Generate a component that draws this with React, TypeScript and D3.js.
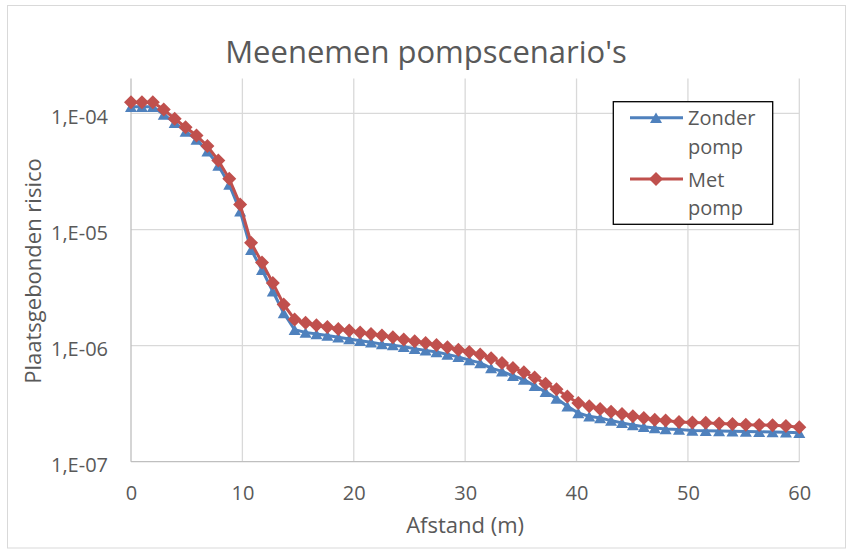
import React, { useEffect, useRef } from "react";
import * as d3 from "d3";

// Afstand (m) van elk rekenpunt
const afstand = [
  0, 0.98, 1.96, 2.94, 3.92, 4.9, 5.88, 6.86, 7.84, 8.82,
  9.8, 10.78, 11.76, 12.73, 13.71, 14.69, 15.67, 16.65, 17.63, 18.61,
  19.59, 20.57, 21.55, 22.53, 23.51, 24.49, 25.47, 26.45, 27.43, 28.41,
  29.39, 30.37, 31.35, 32.33, 33.31, 34.29, 35.27, 36.24, 37.22, 38.2,
  39.18, 40.16, 41.14, 42.12, 43.1, 44.08, 45.06, 46.04, 47.02, 48,
  49.2, 50.4, 51.6, 52.8, 54, 55.2, 56.4, 57.6, 58.8, 60,
];

// Plaatsgebonden risico zonder pomp
const zonderPomp = [
  1.14e-4, 1.14e-4, 1.14e-4, 9.8e-5, 8.3e-5, 7.0e-5, 5.97e-5, 4.73e-5, 3.56e-5, 2.44e-5,
  1.44e-5, 6.7e-6, 4.5e-6, 2.94e-6, 1.91e-6, 1.37e-6, 1.3e-6, 1.26e-6, 1.22e-6, 1.18e-6,
  1.14e-6, 1.1e-6, 1.07e-6, 1.03e-6, 1.01e-6, 9.8e-7, 9.4e-7, 9.1e-7, 8.8e-7, 8.4e-7,
  8.0e-7, 7.5e-7, 7.1e-7, 6.4e-7, 6.0e-7, 5.5e-7, 5.1e-7, 4.5e-7, 4.0e-7, 3.5e-7,
  3.0e-7, 2.63e-7, 2.46e-7, 2.38e-7, 2.26e-7, 2.16e-7, 2.07e-7, 2.0e-7, 1.95e-7, 1.91e-7,
  1.89e-7, 1.86e-7, 1.85e-7, 1.84e-7, 1.83e-7, 1.82e-7, 1.81e-7, 1.8e-7, 1.79e-7, 1.78e-7,
];

// Plaatsgebonden risico met pomp
const metPomp = [
  1.25e-4, 1.25e-4, 1.25e-4, 1.08e-4, 9.0e-5, 7.6e-5, 6.46e-5, 5.23e-5, 3.93e-5, 2.74e-5,
  1.64e-5, 7.7e-6, 5.2e-6, 3.47e-6, 2.26e-6, 1.68e-6, 1.57e-6, 1.5e-6, 1.45e-6, 1.39e-6,
  1.35e-6, 1.3e-6, 1.26e-6, 1.22e-6, 1.18e-6, 1.13e-6, 1.09e-6, 1.055e-6, 1.01e-6, 9.7e-7,
  9.2e-7, 8.8e-7, 8.4e-7, 7.8e-7, 7.1e-7, 6.4e-7, 5.9e-7, 5.3e-7, 4.7e-7, 4.2e-7,
  3.65e-7, 3.2e-7, 3.0e-7, 2.85e-7, 2.7e-7, 2.58e-7, 2.46e-7, 2.38e-7, 2.3e-7, 2.26e-7,
  2.2e-7, 2.18e-7, 2.16e-7, 2.13e-7, 2.11e-7, 2.08e-7, 2.07e-7, 2.06e-7, 2.03e-7, 1.98e-7,
];

const xTicks = [0, 10, 20, 30, 40, 50, 60];
const yTicks = [1e-4, 1e-5, 1e-6, 1e-7];
const yTickLabels = ["1,E-04", "1,E-05", "1,E-06", "1,E-07"];
const legendLines = [["Zonder", "pomp"], ["Met", "pomp"]];

const font = "'Open Sans', sans-serif";
const textColor = "#595959";
const blue = "#4F81BD";
const red = "#C0504D";

const triangle = "M0,-5.25L6,5.25L-6,5.25Z";
const diamond = "M0,-7L7,0L0,7L-7,0Z";

export default function App() {
  const ref = useRef<SVGSVGElement>(null);

  useEffect(() => {
    const svg = d3.select(ref.current);
    svg.selectAll("*").remove();

    //Plot area
    const left = 131, right = 799.3, top = 78.5, bottom = 461.7;

    //Scales
    const x = d3.scaleLinear().domain([0, 60]).range([left, right]);
    const y = d3.scaleLog().domain([1e-7, 2e-4]).range([bottom, top]);

    //Background + chart border
    svg.append("rect")
      .attr("x", 7.5).attr("y", 5.5)
      .attr("width", 838).attr("height", 542.5)
      .attr("fill", "#fff")
      .attr("stroke", "#D9D9D9");

    //Title
    svg.append("text")
      .attr("x", 426).attr("y", 63)
      .attr("text-anchor", "middle")
      .attr("font-size", 31)
      .attr("fill", textColor)
      .text("Meenemen pompscenario's");

    //Gridlines
    svg.append("g").selectAll("line")
      .data(yTicks.slice(0, 3))
      .enter().append("line")
      .attr("x1", left).attr("x2", right)
      .attr("y1", (d) => y(d)).attr("y2", (d) => y(d))
      .attr("stroke", "#D9D9D9").attr("stroke-width", 1.3);
    svg.append("g").selectAll("line")
      .data(xTicks.slice(1))
      .enter().append("line")
      .attr("x1", (d) => x(d)).attr("x2", (d) => x(d))
      .attr("y1", top).attr("y2", bottom)
      .attr("stroke", "#D9D9D9").attr("stroke-width", 1.3);

    //Axis lines
    svg.append("line")
      .attr("x1", left).attr("x2", left).attr("y1", top).attr("y2", bottom)
      .attr("stroke", "#BFBFBF").attr("stroke-width", 1.3);
    svg.append("line")
      .attr("x1", left).attr("x2", right).attr("y1", bottom).attr("y2", bottom)
      .attr("stroke", "#BFBFBF").attr("stroke-width", 1.3);

    //Axis labels
    const xAxis = svg.append("g")
      .attr("transform", `translate(0,${bottom})`)
      .call(d3.axisBottom(x).tickValues(xTicks).tickSize(0).tickPadding(24).tickFormat((d) => String(d)));
    const yAxis = svg.append("g")
      .attr("transform", `translate(${left},0)`)
      .call(d3.axisLeft(y).tickValues(yTicks).tickSize(0).tickPadding(23)
        .tickFormat((d, i) => yTickLabels[i]));
    [xAxis, yAxis].forEach((g) => {
      g.select(".domain").remove();
      g.selectAll("text")
        .attr("font-size", 20)
        .attr("font-family", font)
        .attr("fill", textColor);
    });
    yAxis.selectAll("text").attr("dy", "0.5em");

    //Axis titles
    svg.append("text")
      .attr("x", (left + right) / 2).attr("y", 533)
      .attr("text-anchor", "middle")
      .attr("font-size", 22)
      .attr("fill", textColor)
      .text("Afstand (m)");
    svg.append("text")
      .attr("transform", "translate(41,271) rotate(-90)")
      .attr("text-anchor", "middle")
      .attr("font-size", 22)
      .attr("fill", textColor)
      .text("Plaatsgebonden risico");

    //Series
    const series = [
      { values: zonderPomp, color: blue, marker: triangle },
      { values: metPomp, color: red, marker: diamond },
    ];
    series.forEach((s) => {
      const line = d3.line<number>()
        .x((d, i) => x(afstand[i]))
        .y((d) => y(d));
      svg.append("path")
        .datum(s.values)
        .attr("d", line)
        .attr("fill", "none")
        .attr("stroke", s.color)
        .attr("stroke-width", 3)
        .attr("stroke-linejoin", "round");
      svg.append("g").selectAll("path")
        .data(s.values)
        .enter().append("path")
        .attr("d", s.marker)
        .attr("transform", (d, i) => `translate(${x(afstand[i])},${y(d)})`)
        .attr("fill", s.color);
    });

    //Legend
    const legend = svg.append("g");
    legend.append("rect")
      .attr("x", 613.3).attr("y", 101.7)
      .attr("width", 159.4).attr("height", 122.6)
      .attr("fill", "#fff")
      .attr("stroke", "#000").attr("stroke-width", 1.3);
    const rowY = [117.7, 179];
    series.forEach((s, i) => {
      legend.append("line")
        .attr("x1", 630).attr("x2", 683)
        .attr("y1", rowY[i]).attr("y2", rowY[i])
        .attr("stroke", s.color).attr("stroke-width", 3);
      legend.append("path")
        .attr("d", s.marker)
        .attr("transform", `translate(656,${rowY[i]})`)
        .attr("fill", s.color);
      legendLines[i].forEach((t, j) => {
        legend.append("text")
          .attr("x", 688)
          .attr("y", rowY[i] + 7.5 + j * 28.3)
          .attr("font-size", 20)
          .attr("fill", textColor)
          .text(t);
      });
    });
  }, []);

  return (
    <svg
      ref={ref}
      width={850}
      height={549}
      style={{ position: "absolute", left: 0, top: 0, fontFamily: font }}
    />
  );
}
